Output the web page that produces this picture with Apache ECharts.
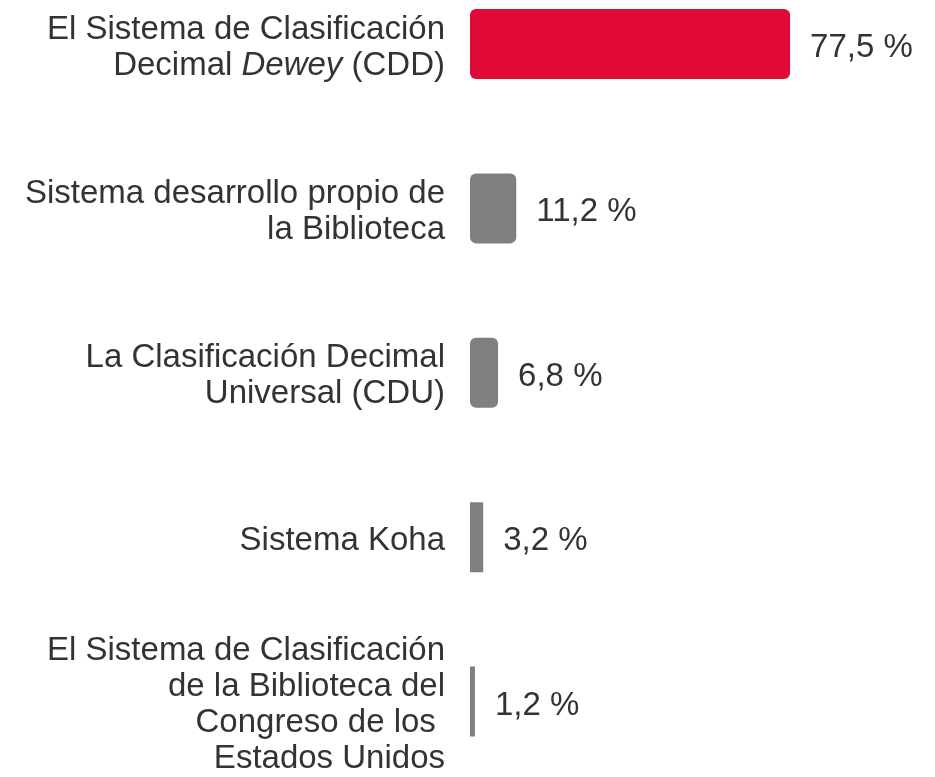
<!DOCTYPE html>
<html>
<head>
<meta charset="utf-8">
<script src="https://cdn.jsdelivr.net/npm/echarts@6/dist/echarts.min.js"></script>
<style>
html, body { margin: 0; padding: 0; background: #fff; }
#container { width: 935px; height: 777px; }
</style>
</head>
<body>
<div id="container"></div>
<script>
var categories = [
    'El Sistema de Clasificación\nDecimal {i|Dewey} (CDD)',
    'Sistema desarrollo propio de\nla Biblioteca',
    'La Clasificación Decimal\nUniversal (CDU)',
    'Sistema Koha',
    'El Sistema de Clasificación\nde la Biblioteca del\nCongreso de los \nEstados Unidos'
];
var values = [77.5, 11.2, 6.8, 3.2, 1.2];
var barColors = ['#e10936', '#808080', '#808080', '#808080', '#808080'];

var dom = document.getElementById('container');
var myChart = echarts.init(dom);

var fontFamily = '"Liberation Sans", Arial, sans-serif';

option = {
    animation: false,
    grid: {
        left: 470,
        right: 52,
        top: 44,
        bottom: 74,
        containLabel: false
    },
    xAxis: {
        type: 'value',
        min: 0,
        max: 100,
        show: false
    },
    yAxis: {
        type: 'category',
        inverse: true,
        boundaryGap: false,
        data: categories,
        axisLine: { show: false },
        axisTick: { show: false },
        axisLabel: {
            margin: 25,
            color: '#333',
            fontSize: 33,
            lineHeight: 36,
            fontFamily: fontFamily,
            align: 'right',
            padding: [7, 0, 0, 0],
            rich: {
                i: {
                    fontStyle: 'italic',
                    fontSize: 33,
                    color: '#333',
                    fontFamily: fontFamily
                }
            }
        }
    },
    series: [
        {
            type: 'bar',
            clip: false,
            barWidth: 70,
            data: values.map(function (v, i) {
                return {
                    value: v,
                    itemStyle: {
                        color: barColors[i],
                        borderRadius: v > 5 ? 6 : 0
                    }
                };
            }),
            label: {
                show: true,
                position: 'right',
                distance: 20,
                offset: [0, 4],
                color: '#333',
                fontSize: 33,
                fontFamily: fontFamily,
                formatter: function (p) {
                    return String(p.value).replace('.', ',') + ' %';
                }
            }
        }
    ]
};

if (option && typeof option === 'object') {
    myChart.setOption(option, true);
}
</script>
</body>
</html>
